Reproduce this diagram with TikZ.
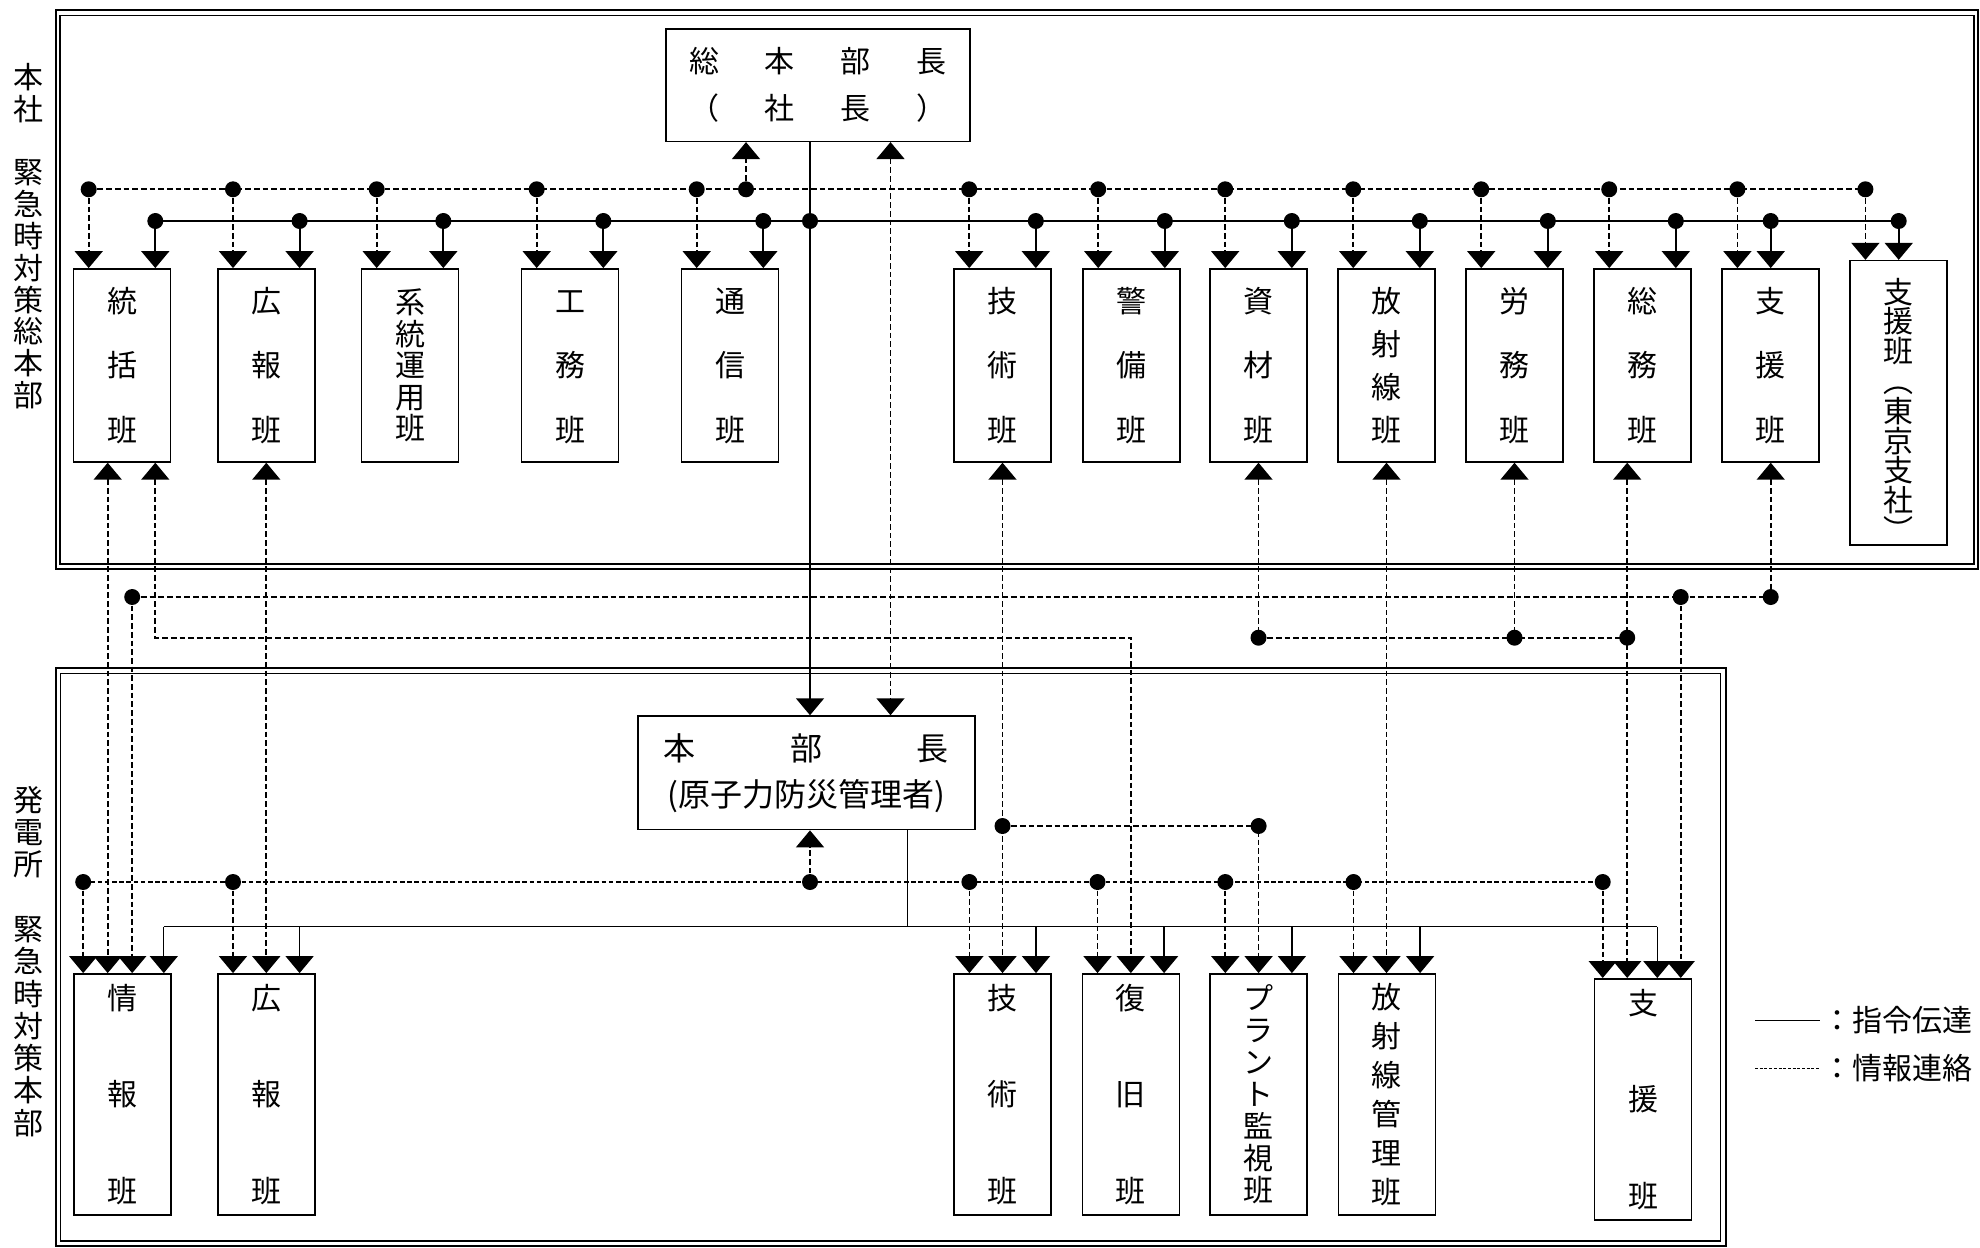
\documentclass[tikz,border=0pt]{standalone}
\usepackage{fontspec}
\usetikzlibrary{arrows.meta}
\newfontfamily\jp{Noto Sans CJK JP}

\begin{document}
\begin{tikzpicture}[x=1pt, y=-1pt,
    han/.style={draw, line width=1.6pt, minimum width=97pt, inner sep=0pt, align=center},
    paso/.style={align=center, inner sep=0pt, font=\jp\fontsize{30}{#1}\selectfont},
    orden/.style={line width=1.8pt},
    ordenf/.style={line width=1.3pt},
    info/.style={line width=1.7pt, dash pattern=on 5.7pt off 3pt},
    infof/.style={line width=1.2pt, dash pattern=on 4.5pt off 2.7pt},
    flecha/.style={-{Triangle[width=28pt,length=17pt]}},
    flechai/.style={{Triangle[width=28pt,length=17pt]}-},
    flechas/.style={{Triangle[width=28pt,length=17pt]}-{Triangle[width=28pt,length=17pt]}}]
  % Parámetros: radio de los puntos y puntal para el texto vertical
  \def\rp{8pt}
  \def\st{\rule[-3.6pt]{0pt}{30pt}}
  \useasboundingbox (0,0) rectangle (1980,1247);

  % Marcos dobles de los dos cuarteles
  \draw[line width=2.2pt] (55.7,10) rectangle (1978,569.3);
  \draw[line width=1.3pt] (60,15.5) rectangle (1974,564);
  \draw[line width=2.2pt] (55.7,668.3) rectangle (1725.7,1246);
  \draw[line width=1.3pt] (60.5,673.5) rectangle (1720.7,1241);

  % Rótulos verticales a la izquierda
  \node[paso=31.8] (lblHQ) at (28.7,236) {\st{}本\\社\\[31.8pt]緊\\急\\時\\対\\策\\総\\本\\部\st};
  \node[paso=32.3] (lblNPS) at (28.7,961.3) {\st{}発\\電\\所\\[32.3pt]緊\\急\\時\\対\\策\\本\\部\st};

  % Jefes
  \node[draw, line width=1.6pt, minimum width=304pt, minimum height=112pt, inner sep=0pt,
        align=center, font=\jp\fontsize{30}{47}\selectfont] (sohon) at (817.7,85.3)
        {\makebox[257pt]{総\hfill 本\hfill 部\hfill 長}\\\makebox[257pt]{（\hfill 社\hfill 長\hfill ）}};
  \node[draw, line width=1.6pt, minimum width=337pt, minimum height=113.5pt, inner sep=0pt,
        align=center, font=\jp\fontsize{32}{46}\selectfont] (honbu) at (806.3,772.8)
        {\makebox[285pt]{本\hfill 部\hfill 長}\\(原子力防災管理者)};

  % Grupos del cuartel general
  \node[han, minimum height=193pt, paso=64.5] (tokatsu) at (122,365.4) {\st{}統\\括\\班\st};
  \node[han, minimum height=193pt, paso=64.5] (koho) at (266.3,365.4) {\st{}広\\報\\班\st};
  \node[han, minimum height=193pt, paso=31.5] (keito) at (410,365.4) {\st{}系\\統\\運\\用\\班\st};
  \node[han, minimum height=193pt, paso=64.5] (komu) at (570,365.4) {\st{}工\\務\\班\st};
  \node[han, minimum height=193pt, paso=64.5] (tsushin) at (730,365.4) {\st{}通\\信\\班\st};
  \node[han, minimum height=193pt, paso=64.5] (gijutsu) at (1002.5,365.4) {\st{}技\\術\\班\st};
  \node[han, minimum height=193pt, paso=64.5] (keibi) at (1131.5,365.4) {\st{}警\\備\\班\st};
  \node[han, minimum height=193pt, paso=64.5] (shizai) at (1258.5,365.4) {\st{}資\\材\\班\st};
  \node[han, minimum height=193pt, paso=43] (hoshasen) at (1386.5,365.4) {\st{}放\\射\\線\\班\st};
  \node[han, minimum height=193pt, paso=64.5] (romu) at (1514.5,365.4) {\st{}労\\務\\班\st};
  \node[han, minimum height=193pt, paso=64.5] (somu) at (1642.5,365.4) {\st{}総\\務\\班\st};
  \node[han, minimum height=193pt, paso=64.5] (shien) at (1770.7,365.4) {\st{}支\\援\\班\st};
  \node[han, minimum height=267.7pt, paso=29.8] (tokyo) at (1898.7,402.85)
        {\rule[-3.6pt]{0pt}{46pt}支\\援\\班\\︵\\東\\京\\支\\社\\︶\st};

  % Grupos de la central
  \node[han, minimum height=241pt, paso=96.5] (joho) at (122.5,1094.4) {\st{}情\\報\\班\st};
  \node[han, minimum height=241pt, paso=96.5] (koho2) at (266.3,1094.4) {\st{}広\\報\\班\st};
  \node[han, minimum height=241pt, paso=96.5] (gijutsu2) at (1002.7,1094.4) {\st{}技\\術\\班\st};
  \node[han, minimum height=241pt, paso=96.5] (fukkyu) at (1130.8,1094.4) {\st{}復\\旧\\班\st};
  \node[han, minimum height=241pt, paso=32] (plant) at (1258.6,1094.4) {\st{}プ\\ラ\\ン\\ト\\監\\視\\班\st};
  \node[han, minimum height=241pt, paso=39] (hoshasen2) at (1386.8,1094.4) {\st{}放\\射\\線\\管\\理\\班\st};
  \node[han, minimum height=241pt, paso=96.5] (shien2) at (1643,1099.3) {\st{}支\\援\\班\st};

  % Alturas de las líneas horizontales y de los troncos
  \coordinate (dbus) at (0,189.3);
  \coordinate (sbus) at (0,221);
  \coordinate (lineA) at (0,597);
  \coordinate (lineB) at (0,637.7);
  \coordinate (lineT) at (0,826);
  \coordinate (bdbus) at (0,882);
  \coordinate (bsbus) at (0,926.7);
  \coordinate (trunk) at (810,0);
  \coordinate (upHQ) at (746,0);
  \coordinate (link) at (890.5,0);
  \coordinate (btrunk) at (907.3,0);

  % Llegadas a los grupos del cuartel general
  \foreach \n in {tokatsu,koho,keito,komu,tsushin,gijutsu,keibi,shizai,hoshasen,romu,somu}{
    \coordinate (\n-d) at ([xshift=16pt]\n.north west);
    \coordinate (\n-s) at ([xshift=-16pt]\n.north east);
  }
  \foreach \n in {shien,tokyo}{
    \coordinate (\n-d) at ([xshift=16pt]\n.north west);
    \coordinate (\n-s) at (\n.north);
  }
  \draw[info] (tokatsu-d |- dbus) -- (tokyo-d |- dbus);
  \draw[orden] (tokatsu-s |- sbus) -- (tokyo-s |- sbus);
  \foreach \n in {tokatsu,koho,keito,komu,tsushin,gijutsu,keibi,shizai,hoshasen,romu,somu,shien,tokyo}{
    \draw[info,flecha] (\n-d |- dbus) -- (\n-d);
    \draw[orden,flecha] (\n-s |- sbus) -- (\n-s);
    \fill (\n-d |- dbus) circle [radius=\rp];
    \fill (\n-s |- sbus) circle [radius=\rp];
  }

  % Troncos entre los jefes
  \draw[orden,flecha] (trunk |- sohon.south) -- (trunk |- honbu.north);
  \fill (trunk |- sbus) circle [radius=\rp];
  \draw[info,flecha] (upHQ |- dbus) -- (upHQ |- sohon.south);
  \fill (upHQ |- dbus) circle [radius=\rp];
  \draw[info,flechas] (link |- sohon.south) -- (link |- honbu.north);

  % Llegadas a los grupos de la central
  \foreach \n/\a/\b in {joho/10/8,koho2/16/16,gijutsu2/16/16,fukkyu/16/16,plant/16/16,hoshasen2/16/16,shien2/9/35}{
    \coordinate (\n-d) at ([xshift=\a pt]\n.north west);
    \coordinate (\n-s) at ([xshift=-\b pt]\n.north east);
  }
  \draw[infof] (joho-d |- bdbus) -- (shien2-d |- bdbus);
  \draw[ordenf] (joho-s |- bsbus) -- (shien2-s |- bsbus);
  \draw[ordenf] (btrunk |- honbu.south) -- (btrunk |- bsbus);
  \draw[info,flecha] (trunk |- bdbus) -- (trunk |- honbu.south);
  \fill (trunk |- bdbus) circle [radius=\rp];
  \foreach \n in {joho,koho2,gijutsu2,fukkyu,plant,hoshasen2,shien2}{
    \draw[info,flecha] (\n-d |- bdbus) -- (\n-d);
    \draw[ordenf,flecha] (\n-s |- bsbus) -- (\n-s);
    \fill (\n-d |- bdbus) circle [radius=\rp];
  }

  % Enlaces de información entre ambos cuarteles
  \coordinate (tk-a) at ([xshift=35pt]tokatsu.south west);
  \coordinate (tk-b) at ([xshift=-16pt]tokatsu.south east);
  \coordinate (jh-a) at ([xshift=59pt]joho.north west);
  \coordinate (sm-a) at ([xshift=34pt]somu.south west);
  \coordinate (sh-b) at ([xshift=87pt]shien2.north west);
  \draw[info,flechas] (tk-a) -- (tk-a |- joho.north);
  \draw[info,flechas] (tk-b) -- (tk-b |- lineB) -- (fukkyu.north |- lineB) -- (fukkyu.north);
  \draw[info,flechas] (koho.south) -- (koho.south |- koho2.north);
  \draw[info,flechas] (gijutsu.south) -- (gijutsu.south |- gijutsu2.north);
  \draw[info,flecha] (gijutsu.south |- lineT) -- (plant.north |- lineT) -- (plant.north);
  \draw[info,flechai] (shizai.south) -- (shizai.south |- lineB);
  \draw[info,flechas] (hoshasen.south) -- (hoshasen.south |- hoshasen2.north);
  \draw[info,flechai] (romu.south) -- (romu.south |- lineB);
  \draw[info,flechas] (sm-a) -- (sm-a |- shien2.north);
  \draw[info] (shizai.south |- lineB) -- (sm-a |- lineB);
  \draw[info,flechai] (shien.south) -- (shien.south |- lineA);
  \draw[info] (jh-a |- lineA) -- (shien.south |- lineA);
  \draw[info,flecha] (jh-a |- lineA) -- (jh-a);
  \draw[info,flecha] (sh-b |- lineA) -- (sh-b);
  \foreach \p in {gijutsu.south |- lineT, plant.north |- lineT, shizai.south |- lineB,
                  romu.south |- lineB, sm-a |- lineB, shien.south |- lineA, jh-a |- lineA, sh-b |- lineA}
    \fill (\p) circle [radius=\rp];

  % Leyenda
  \node[anchor=west, inner sep=0pt, font=\jp\fontsize{30}{30}\selectfont] (leg1) at (1822,1020.5) {：指令伝達};
  \node[anchor=west, inner sep=0pt, font=\jp\fontsize{30}{30}\selectfont] (leg2) at (1822,1068.5) {：情報連絡};
  \draw[line width=1.5pt] ([xshift=-67pt]leg1.west) -- ([xshift=-2pt]leg1.west);
  \draw[line width=1pt, dash pattern=on 3pt off 1.7pt] ([xshift=-67pt]leg2.west) -- ([xshift=-2pt]leg2.west);
\end{tikzpicture}
\end{document}
